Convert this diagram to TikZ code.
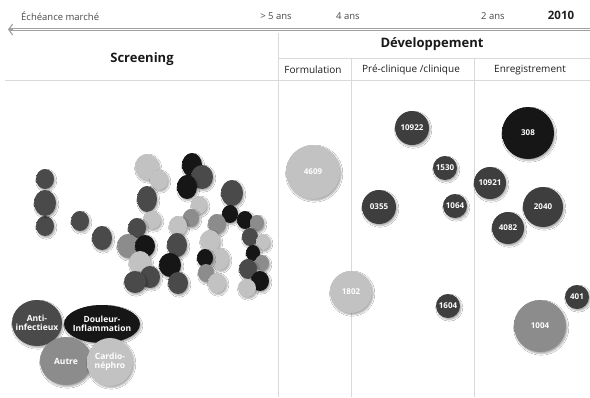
\documentclass[tikz,border=0pt]{standalone}
\usepackage{fontspec}
\setmainfont{Open Sans}
\usetikzlibrary{shapes.geometric,shadows.blur,arrows.meta}
\definecolor{gdark}{HTML}{4A4A4A}
\definecolor{gblack}{HTML}{161616}
\definecolor{gmid}{HTML}{8C8C8C}
\definecolor{glight}{HTML}{C2C2C2}
\definecolor{rdark}{HTML}{3E3E3E}
\definecolor{gridc}{HTML}{D9D9D9}
\definecolor{arrc}{HTML}{A0A0A0}
\definecolor{toptext}{HTML}{484848}
\colorlet{bubcol}{gdark}
\pgfdeclareradialshading[bubcol]{bubshade}{\pgfpoint{-4bp}{4bp}}{color(0bp)=(bubcol);color(30bp)=(bubcol);color(48bp)=(bubcol!65!white);color(60bp)=(bubcol!65!white)}
\begin{document}
\begin{tikzpicture}[x=1pt,y=-1pt,
  gridline/.style={draw=gridc,line width=0.9pt},
  bub/.style={ellipse,inner sep=0pt,draw=none,
    /utils/exec={\colorlet{bubcol}{#1}},shade,shading=bubshade,
    blur shadow={shadow xshift=1.2pt,shadow yshift=-1.6pt,shadow blur radius=1.6pt,shadow opacity=35}},
  sz/.style 2 args={minimum width=#1pt,minimum height=#2pt},
  rsz/.style={minimum width=#1pt,minimum height=#1pt},
  lab/.style={text=white,font=\fontsize{8}{9}\selectfont\bfseries,inner sep=0pt},
  leg/.style={text=white,font=\fontsize{8.5}{9.5}\selectfont\bfseries,align=center,inner sep=0pt},
  toplab/.style={text=toptext,font=\fontsize{9.5}{11}\selectfont,inner sep=0pt},
  head/.style={text=black!90,font=\fontsize{13}{15}\selectfont\bfseries,inner sep=0pt},
  sub/.style={text=black!88,font=\fontsize{10}{12}\selectfont,inner sep=0pt}]
\fill[white] (0,0) rectangle (590,397);
\useasboundingbox (0,0) rectangle (590,397);

% ---- grid lines
\coordinate (vt) at (278,33);  \coordinate (vb) at (278,397);
\coordinate (hl) at (5,80);    \coordinate (hr) at (590,80);
\coordinate (h2l) at (278,58); \coordinate (h2r) at (590,58);
\coordinate (v2t) at (351,58); \coordinate (v2b) at (351,397);
\coordinate (v3t) at (474,58); \coordinate (v3b) at (474,397);
\draw[gridline] (vt) -- (vb);
\draw[gridline] (hl) -- (hr);
\draw[gridline] (h2l) -- (h2r);
\draw[gridline] (v2t) -- (v2b);
\draw[gridline] (v3t) -- (v3b);

% ---- time arrow
\coordinate (aR) at (590,29.5);
\coordinate (aL) at (8,29.5);
\coordinate (aLi) at (13,29.5);
\draw[arrc,line width=3.6pt,-{Straight Barb[length=4pt,width=11pt,line width=1.1pt]}] (aR) -- (aL);
\draw[white,line width=1.1pt] (aR) -- (aLi);

% ---- header texts
\node[toplab,anchor=west] (ech) at (21,16) {Échéance marché};
\node[toplab] (t5) at (276,16) {> 5 ans};
\node[toplab] (t4) at (348,16) {4 ans};
\node[toplab] (t2) at (493,16) {2 ans};
\node[text=black!88,font=\fontsize{11.5}{13}\selectfont\bfseries,inner sep=0pt] (t2010) at (561,15) {2010};
\node[head] (scr) at (142,59) {Screening};
\node[head] (dev) at (432,44) {Développement};
\node[sub] (form) at (313,70) {Formulation};
\node[sub] (prec) at (411,70) {Pré-clinique /clinique};
\node[sub] (enr) at (530,70) {Enregistrement};

% ---- screening cluster: left column
\node[bub=gdark,sz={18}{20}] (b1) at (45,179) {};
\node[bub=gdark,sz={18}{20}] (b3) at (45,226) {};
\node[bub=gdark,sz={22}{26}] (b2) at (45,203) {};
\node[bub=gdark,sz={18}{20}] (b4) at (80,221) {};
\node[bub=gdark,sz={20}{24}] (b5) at (102,238) {};

% cluster A
\node[bub=glight,sz={24}{26}] (a1) at (147,167) {};
\node[bub=glight,sz={18}{20}] (a2) at (159,180) {};
\node[bub=gdark,sz={20}{26}] (a3) at (147,199) {};
\node[bub=glight,sz={18}{18}] (a4) at (152,220) {};
\node[bub=gdark,sz={18}{20}] (a5) at (137,228) {};
\node[bub=gmid,sz={22}{24}] (a6) at (128,246) {};
\node[bub=gblack,sz={20}{22}] (a7) at (145,246) {};
\node[bub=glight,sz={22}{24}] (a8) at (140,263) {};
\node[bub=gdark,sz={20}{22}] (a9) at (150,277) {};
\node[bub=gdark,sz={22}{22}] (a10) at (135,282) {};

% cluster B
\node[bub=gblack,sz={20}{24}] (d1) at (192,165) {};
\node[bub=gdark,sz={22}{24}] (d2) at (202,177) {};
\node[bub=gblack,sz={20}{24}] (d3) at (187,187) {};
\node[bub=glight,sz={16}{18}] (d4) at (199,205) {};
\node[bub=gmid,sz={16}{18}] (d5) at (191,218) {};
\node[bub=glight,sz={18}{20}] (d6) at (178,226) {};
\node[bub=gdark,sz={20}{24}] (d7) at (177,245) {};
\node[bub=gblack,sz={22}{24}] (d8) at (170,265) {};
\node[bub=gdark,sz={20}{22}] (d9) at (178,283) {};

% cluster C
\node[bub=gdark,sz={22}{26}] (e1) at (232,193) {};
\node[bub=gblack,sz={16}{18}] (e2) at (230,214) {};
\node[bub=gmid,sz={18}{20}] (e3) at (217,224) {};
\node[bub=glight,sz={20}{22}] (e4) at (210,241) {};
\node[bub=glight,sz={18}{22}] (e5) at (220,259) {};
\node[bub=gblack,sz={16}{18}] (e6) at (205,258) {};
\node[bub=gmid,sz={16}{18}] (e7) at (206,273) {};
\node[bub=glight,sz={18}{20}] (e8) at (217,283) {};

% cluster D
\node[bub=gblack,sz={16}{18}] (f1) at (245,220) {};
\node[bub=gmid,sz={14}{16}] (f2) at (257,223) {};
\node[bub=gdark,sz={16}{18}] (f3) at (250,237) {};
\node[bub=glight,sz={14}{16}] (f4) at (263,242) {};
\node[bub=gblack,sz={14}{16}] (f5) at (253,253) {};
\node[bub=gmid,sz={14}{16}] (f6) at (262,263) {};
\node[bub=gdark,sz={18}{20}] (f7) at (248,269) {};
\node[bub=gblack,sz={18}{20}] (f8) at (260,281) {};
\node[bub=glight,sz={18}{18}] (f9) at (247,288) {};

% ---- legend
\node[bub=gdark,sz={50}{46},label={[leg]center:Anti-\\infectieux}] (lanti) at (37,323) {};
\node[bub=gblack,sz={76}{38},label={[leg]center:Douleur-\\Inflammation}] (ldoul) at (102,324) {};
\node[bub=gmid,sz={52}{48},label={[leg]center:Autre}] (lautre) at (66,361) {};
\node[bub=glight,sz={46}{48},label={[leg]center:Cardio-\\néphro}] (lcard) at (110,362) {};

% ---- development bubbles
\node[bub=glight,rsz=54,label={[lab]center:4609}] (n4609) at (313,172) {};
\node[bub=rdark,rsz=34,label={[lab]center:10922}] (n10922) at (412,128) {};
\node[bub=rdark,rsz=24,label={[lab]center:1530}] (n1530) at (445,168) {};
\node[bub=rdark,rsz=34,label={[lab]center:0355}] (n0355) at (379,207) {};
\node[bub=rdark,rsz=24,label={[lab]center:1064}] (n1064) at (455,206) {};
\node[bub=gblack,rsz=52,label={[lab]center:308}] (n308) at (528,133) {};
\node[bub=rdark,rsz=32,label={[lab]center:10921}] (n10921) at (490,183) {};
\node[bub=rdark,rsz=40,label={[lab]center:2040}] (n2040) at (543,207) {};
\node[bub=rdark,rsz=32,label={[lab]center:4082}] (n4082) at (508,228) {};
\node[bub=glight,rsz=42,label={[lab]center:1802}] (n1802) at (351,292) {};
\node[bub=rdark,rsz=24,label={[lab]center:1604}] (n1604) at (448,306) {};
\node[bub=rdark,rsz=24,label={[lab]center:401}] (n401) at (577,297) {};
\node[bub=gmid,rsz=52,label={[lab]center:1004}] (n1004) at (540,326) {};
\end{tikzpicture}
\end{document}
